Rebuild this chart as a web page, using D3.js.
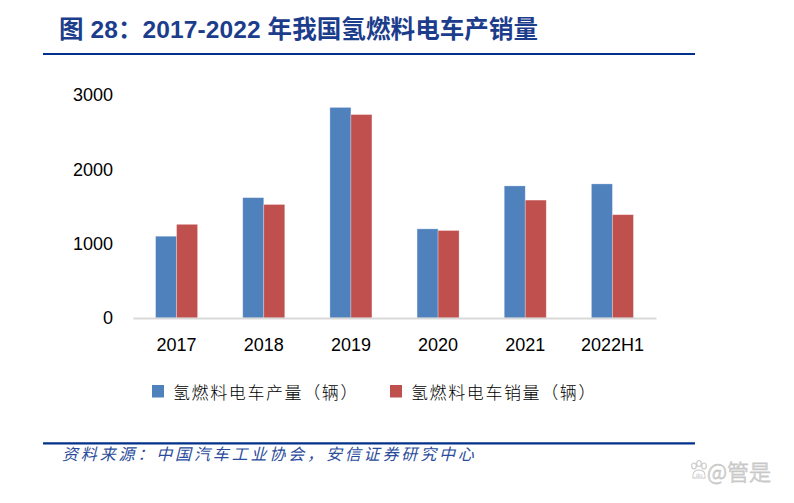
<!DOCTYPE html>
<html>
<head>
<meta charset="utf-8">
<script src="https://cdn.jsdelivr.net/npm/d3@7/dist/d3.min.js"></script>
<style>
    body { margin: 0; background: #fff; }
    svg { display: block; }
</style>
</head>
<body>
<div class="chart"></div>
<script>
let categories = ["2017", "2018", "2019", "2020", "2021", "2022H1"];
let seriesNames = ["氢燃料电车产量（辆）", "氢燃料电车销量（辆）"];
let production = [1100, 1619, 2833, 1199, 1777, 1804];
let sales = [1260, 1527, 2737, 1177, 1586, 1390];
let yTicks = [0, 1000, 2000, 3000];
let colors = ["#4f81bd", "#c0504d"];

let width = 794,
    height = 503;

let svg = d3.select(".chart").append("svg")
    .attr("width", width)
    .attr("height", height);

// title + rules
svg.append("text")
    .attr("x", 59)
    .attr("y", 38)
    .attr("fill", "#1c3c8c")
    .style("font-family", "'Liberation Sans', Arial, 'Noto Sans CJK SC'")
    .style("font-weight", "bold")
    .style("font-size", "24.5px")
    .style("letter-spacing", "0.1px")
    .text("图 28：2017-2022 年我国氢燃料电车产销量");

svg.append("line")
    .attr("x1", 43).attr("x2", 695)
    .attr("y1", 54).attr("y2", 54)
    .attr("stroke", "#00308a")
    .attr("stroke-width", 2.2);

svg.append("line")
    .attr("x1", 43).attr("x2", 695)
    .attr("y1", 443.3).attr("y2", 443.3)
    .attr("stroke", "#00308a")
    .attr("stroke-width", 2.2);

// scales
let x0 = d3.scaleBand()
    .domain(categories)
    .range([133, 656])
    .paddingInner(0.518)
    .paddingOuter(0.259);

let x1 = d3.scaleBand()
    .domain([0, 1])
    .range([0, x0.bandwidth()]);

let y = d3.scaleLinear()
    .domain([0, 3000])
    .range([318, 95]);

let data = categories.map(function (c, i) {
    return { cat: c, values: [production[i], sales[i]] };
});

// bars
let groups = svg.selectAll(".group")
    .data(data)
    .enter().append("g")
    .attr("class", "group")
    .attr("transform", function (d) { return "translate(" + x0(d.cat) + ",0)"; });

groups.selectAll("rect")
    .data(function (d) { return d.values; })
    .enter().append("rect")
    .attr("x", function (d, i) { return x1(i); })
    .attr("width", x1.bandwidth())
    .attr("y", function (d) { return y(d); })
    .attr("height", function (d) { return y(0) - y(d); })
    .attr("fill", function (d, i) { return colors[i]; })
    .attr("stroke", "rgba(255,255,255,0.35)")
    .attr("stroke-width", 0.8);

// y axis labels
let yAxis = d3.axisLeft(y)
    .tickValues(yTicks)
    .tickSize(0)
    .tickPadding(0)
    .tickFormat(d3.format("d"));

let yg = svg.append("g")
    .attr("transform", "translate(113,0)")
    .call(yAxis);
yg.select(".domain").remove();
yg.selectAll("text")
    .attr("fill", "#000")
    .style("font-family", "'Liberation Sans', Arial")
    .style("font-size", "18px");

// x axis
let xAxis = d3.axisBottom(x0)
    .tickSize(0)
    .tickPadding(20);

let xg = svg.append("g")
    .attr("transform", "translate(0,318)")
    .call(xAxis);
xg.select(".domain")
    .attr("stroke", "#d9d9d9")
    .attr("stroke-width", 2);
xg.selectAll("text")
    .attr("fill", "#000")
    .style("font-family", "'Liberation Sans', Arial")
    .style("font-size", "18px");

// legend
let legendX = [152, 390];
let legend = svg.selectAll(".legend")
    .data(seriesNames)
    .enter().append("g")
    .attr("class", "legend")
    .attr("transform", function (d, i) { return "translate(" + legendX[i] + ",385)"; });

legend.append("rect")
    .attr("width", 12)
    .attr("height", 12.5)
    .attr("fill", function (d, i) { return colors[i]; });

legend.append("text")
    .attr("x", 21)
    .attr("y", 14)
    .attr("fill", "#000")
    .style("font-family", "'Noto Sans CJK SC'")
    .style("font-weight", 300)
    .style("font-size", "17px")
    .style("letter-spacing", "1.6px")
    .text(function (d) { return d; });

// source
svg.append("text")
    .attr("x", 62)
    .attr("y", 459.5)
    .attr("fill", "#2b4c9c")
    .style("font-family", "'Noto Sans CJK SC'")
    .style("font-style", "italic")
    .style("font-size", "16px")
    .style("letter-spacing", "2.85px")
    .text("资料来源：中国汽车工业协会，安信证券研究中心");

// watermark
let wm = svg.append("g").attr("transform", "translate(699,472)");
[[-5, -6], [0, -8.5], [5, -6]].forEach(function (p) {
    wm.append("ellipse")
        .attr("cx", p[0]).attr("cy", p[1])
        .attr("rx", 2.3).attr("ry", 3)
        .attr("fill", "none").attr("stroke", "#c8c8c8").attr("stroke-width", 1.1);
});
wm.append("path")
    .attr("d", "M-6,6 Q-7,-2 0,-2 Q7,-2 6,6 Z")
    .attr("fill", "none").attr("stroke", "#c8c8c8").attr("stroke-width", 1.1);
wm.append("text")
    .attr("x", 0).attr("y", 5)
    .attr("text-anchor", "middle")
    .attr("fill", "#c8c8c8")
    .style("font-family", "'Liberation Sans', Arial")
    .style("font-size", "6px")
    .text("du");

svg.append("text")
    .attr("x", 707)
    .attr("y", 480)
    .attr("fill", "#f4f4f4")
    .attr("stroke", "#c8c8c8")
    .attr("stroke-width", 0.8)
    .style("font-family", "'Noto Sans CJK SC'")
    .style("font-weight", 300)
    .style("font-size", "22px")
    .text("@管是");
</script>
</body>
</html>
